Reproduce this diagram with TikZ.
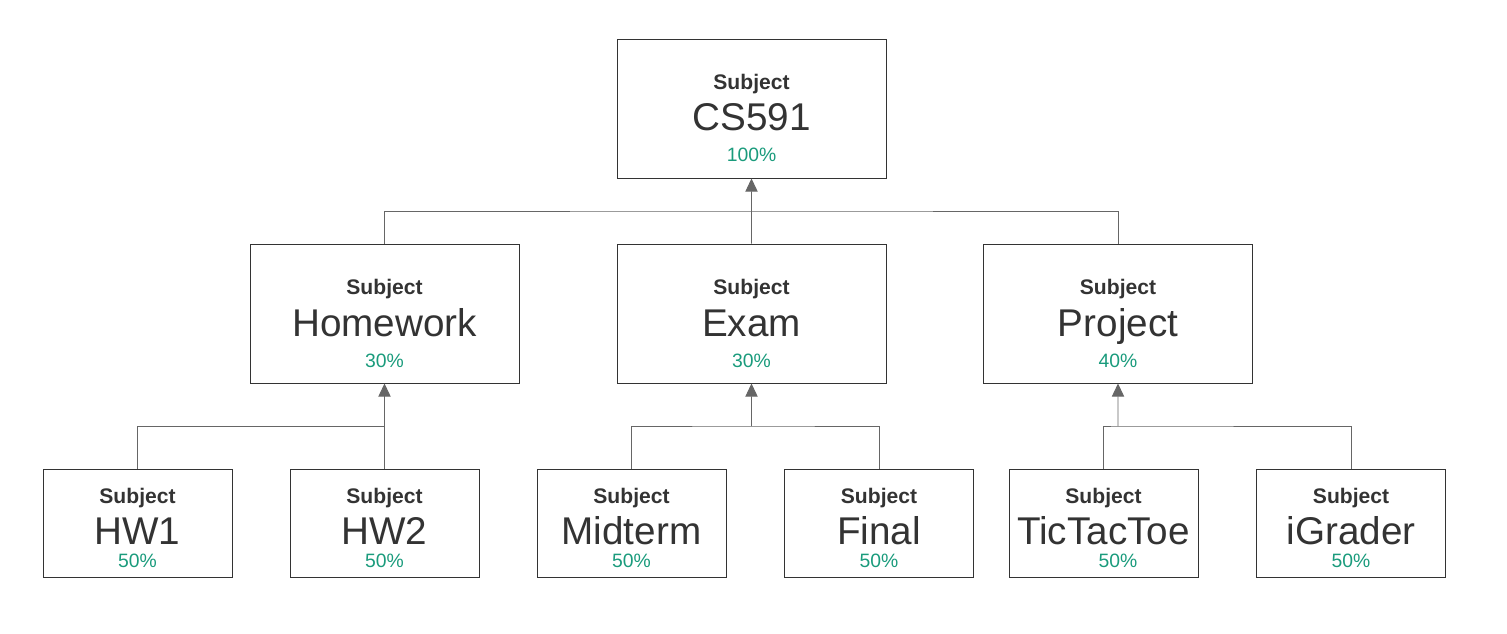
\documentclass[tikz,border=0pt]{standalone}
\usepackage{fontspec}
\setmainfont{Liberation Sans}
\usetikzlibrary{arrows.meta,positioning,calc}
\definecolor{ink}{HTML}{333333}
\definecolor{wire}{HTML}{666666}
\definecolor{share}{HTML}{1A9B7C}
\tikzset{
    %Define standard arrow tip
    >={Triangle[width=7pt,length=7.5pt]},
    %Define style for boxes
    bigbox/.style={
   	rectangle,
   	draw=ink, line width=0.55pt,
   	minimum width=5.38cm,
   	minimum height=2.78cm,
   	inner sep=0pt
   },
    leafbox/.style={
   	rectangle,
   	draw=ink, line width=0.55pt,
   	minimum width=3.78cm,
   	minimum height=2.16cm,
   	inner sep=0pt
   },
    % Define text styles
    kind/.style={anchor=base, inner sep=0pt, text=ink, font=\bfseries\fontsize{12}{14}\selectfont},
    title/.style={anchor=base, inner sep=0pt, text=ink, font=\fontsize{22}{26}\selectfont},
    pct/.style={anchor=base, inner sep=0pt, text=share, font=\fontsize{11}{13}\selectfont},
    % Define arrow style
    link/.style={draw=wire, line width=0.5pt}
}
% box with its three lines of text
\newcommand{\bigsubject}[4]{%
  \node[bigbox] (#1) at (#2) {};
  \node[kind] (#1-k) at ($(#1.center)+(0,0.37)$) {Subject};
  \node[title] (#1-t) at ($(#1.center)+(0,-0.45)$) {#3};
  \node[pct] (#1-p) at ($(#1.center)+(0,-1.07)$) {#4};
}
\newcommand{\leafsubject}[5][0]{%
  \node[leafbox] (#2) at (#3) {};
  \node[kind] (#2-k) at ($(#2.center)+(0,0.40)$) {Subject};
  \node[title] (#2-t) at ($(#2.center)+(0,-0.42)$) {#4};
  \node[pct] (#2-p) at ($(#2.center)+(#1,-0.88)$) {#5};
}
\begin{document}
\begin{tikzpicture}
		\useasboundingbox (0,0) rectangle (30.14,-12.68);
		%nodes
		\bigsubject{cs}{15.03,-2.17}{CS591}{100\%}
		\bigsubject{hw}{7.69,-6.27}{Homework}{30\%}
		\bigsubject{exam}{15.03,-6.27}{Exam}{30\%}
		\bigsubject{proj}{22.36,-6.27}{Project}{40\%}
		\leafsubject{hw1}{2.75,-10.46}{HW1}{50\%}
		\leafsubject{hw2}{7.69,-10.46}{HW2}{50\%}
		\leafsubject{mid}{12.63,-10.46}{Midterm}{50\%}
		\leafsubject{fin}{17.58,-10.46}{Final}{50\%}
		\leafsubject[0.29]{ttt}{22.07,-10.46}{TicTacToe}{50\%}
		\leafsubject{igr}{27.02,-10.46}{iGrader}{50\%}
		%buses
		\coordinate (csbus) at ($(cs.south)!.5!(cs.south |- exam.north)$);
		\coordinate (hwbus) at ($(hw.south)!.5!(hw.south |- hw1.north)$);
		\coordinate (exbus) at ($(exam.south)!.5!(exam.south |- mid.north)$);
		\coordinate (prbus) at ($(proj.south)!.5!(proj.south |- ttt.north)$);
		%edges
		\draw[link] (hw.north) |- (csbus) -| (proj.north);
		\draw[link] (exam.north) -- (csbus);
		\draw[link,->] (csbus) -- (cs.south);
		\draw[link] (hw1.north) |- (hwbus) -- (hw2.north);
		\draw[link,->] (hwbus) -- (hw.south);
		\draw[link] (mid.north) |- (exbus) -| (fin.north);
		\draw[link,->] (exbus) -- (exam.south);
		\draw[link] (ttt.north) |- (prbus) -| (igr.north);
		\draw[link,->] (prbus) -- (proj.south);
\end{tikzpicture}
\end{document}
